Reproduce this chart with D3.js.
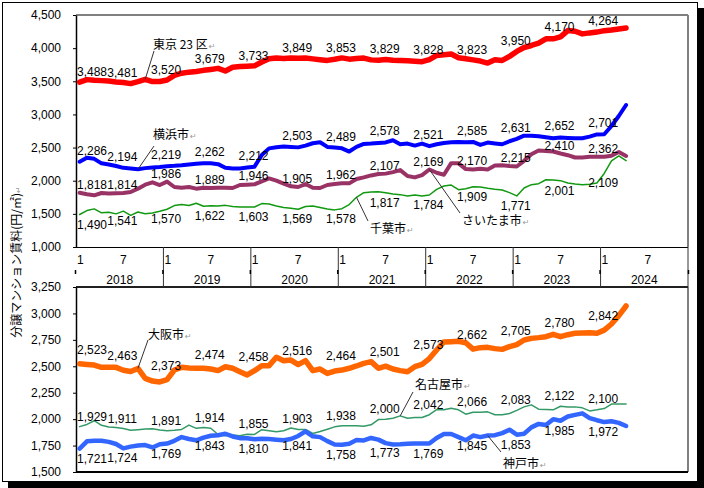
<!DOCTYPE html>
<html><head><meta charset="utf-8">
<script src="https://cdn.jsdelivr.net/npm/d3@7"></script>
<style>
body{margin:0;background:#fff;}
svg{display:block;}
.num{font-family:"Liberation Sans Narrow","Liberation Sans",Arial,sans-serif;font-size:12px;fill:#000;}
.jp{font-family:"Noto Sans CJK JP",sans-serif;font-size:12px;fill:#000;}
.ret{font-family:"DejaVu Sans",sans-serif;font-size:8px;fill:#999;}
</style></head><body>
<svg id="c" width="704" height="488"></svg>
<script>
// ---------- data ----------
const years = ["2018","2019","2020","2021","2022","2023","2024"];
const monthTicks = ["1","7"];
const topTicks = [1000,1500,2000,2500,3000,3500,4000,4500];
const bottomTicks = [1500,1750,2000,2250,2500,2750,3000,3250];
const yTitle = "分譲マンション賃料(円/㎡)";

const tokyo = [3488,3525,3515,3510,3505,3490,3481,3465,3495,3530,3495,3497,
 3520,3590,3622,3638,3648,3665,3679,3695,3655,3712,3722,3728,
 3733,3790,3840,3850,3845,3850,3849,3850,3838,3826,3815,3832,
 3853,3834,3842,3850,3823,3818,3829,3818,3813,3808,3803,3795,
 3828,3890,3900,3912,3855,3840,3823,3805,3775,3825,3815,3875,
 3950,4010,4040,4075,4140,4140,4170,4265,4255,4215,4230,4242,
 4264,4275,4290,4304];
const yokohama = [2286,2345,2330,2262,2245,2222,2194,2185,2172,2190,2200,2208,
 2219,2224,2232,2245,2255,2262,2262,2250,2195,2185,2185,2198,
 2212,2388,2488,2505,2515,2510,2503,2530,2565,2580,2510,2500,
 2489,2440,2510,2555,2560,2570,2578,2610,2550,2560,2530,2560,
 2521,2550,2570,2580,2585,2582,2585,2540,2575,2562,2550,2595,
 2631,2680,2680,2672,2655,2640,2652,2645,2640,2640,2665,2698,
 2701,2825,2976,3142];
const saitama = [1818,1795,1780,1815,1808,1812,1814,1830,1880,1940,1975,1935,
 1986,1905,1895,1905,1880,1895,1889,1895,1895,1890,1935,1940,
 1946,1990,2035,2000,1955,1915,1905,1950,1895,1890,1935,1950,
 1962,1960,2025,2050,2080,2100,2107,2130,2160,2070,2050,2085,
 2169,2120,2090,2265,2262,2175,2170,2180,2170,2230,2232,2222,
 2215,2300,2400,2455,2450,2440,2410,2385,2350,2350,2360,2362,
 2362,2378,2433,2373];
const chiba = [1490,1550,1575,1515,1525,1500,1541,1478,1528,1503,1513,1540,
 1570,1625,1640,1625,1660,1615,1622,1620,1628,1612,1603,1603,
 1603,1655,1648,1620,1595,1585,1569,1610,1620,1595,1572,1560,
 1578,1640,1750,1820,1830,1832,1817,1800,1790,1770,1785,1770,
 1784,1870,1920,1935,1865,1880,1909,1905,1885,1870,1860,1820,
 1771,1890,1940,1955,2015,2010,2001,1965,1950,1940,1945,1965,
 2109,2300,2373,2302];
const osaka = [2523,2518,2512,2490,2490,2490,2463,2450,2480,2385,2360,2352,
 2373,2465,2490,2484,2481,2481,2474,2459,2496,2481,2449,2418,
 2458,2506,2506,2585,2553,2559,2516,2553,2459,2474,2433,2455,
 2464,2481,2503,2528,2544,2481,2501,2474,2459,2449,2496,2518,
 2573,2654,2730,2733,2736,2723,2662,2676,2679,2667,2660,2686,
 2705,2749,2764,2771,2780,2802,2780,2799,2812,2815,2818,2812,
 2842,2900,2979,3070];
const nagoya = [1929,1950,1985,1942,1925,1922,1911,1895,1900,1906,1909,1897,
 1891,1894,1903,1944,1913,1922,1914,1855,1842,1850,1842,1858,
 1855,1900,1890,1880,1890,1916,1903,1902,1865,1883,1905,1927,
 1938,1937,1937,1933,1946,1996,2000,2009,2031,2009,2015,2015,
 2042,2091,2088,2104,2088,2047,2066,2066,2069,2041,2041,2053,
 2083,2116,2135,2094,2091,2088,2122,2116,2116,2107,2078,2088,
 2100,2143,2143,2143];
const kobe = [1721,1790,1795,1795,1785,1765,1724,1740,1750,1755,1732,1762,
 1769,1795,1830,1812,1800,1825,1843,1848,1862,1836,1820,1820,
 1810,1815,1812,1806,1800,1812,1841,1885,1838,1830,1792,1760,
 1758,1768,1802,1798,1822,1806,1773,1760,1762,1768,1770,1770,
 1769,1822,1860,1860,1830,1800,1845,1830,1845,1848,1868,1900,
 1853,1862,1922,1955,1945,2000,1985,2025,2040,2055,2010,1990,
 1972,1980,1965,1935];

const names = ["東京 23 区","横浜市","さいたま市","千葉市","大阪市","名古屋市","神戸市"];

// ---------- layout / style ----------
const months = years.flatMap(y => d3.range(1,13).map(m => y + "-" + m));
const svg = d3.select("#c");
const L = 76, R = 688;
const x = d3.scaleBand().domain(months).range([L, R]);
const xc = i => x(months[i]) + x.bandwidth()/2;
const yTop = d3.scaleLinear().domain([1000,4500]).range([247,15]);
const yBot = d3.scaleLinear().domain([1500,3250]).range([472,287]);

// outer frame with shadow
svg.append("rect").attr("x",8).attr("y",8).attr("width",696).attr("height",480).attr("fill","#000");
svg.append("rect").attr("x",2.5).attr("y",2.5).attr("width",695).attr("height",479)
  .attr("fill","#fff").attr("stroke","#000").attr("stroke-width",1);

// plot area borders
function panelFrame(y0,y1){
  svg.append("line").attr("x1",L).attr("x2",R).attr("y1",y0).attr("y2",y0).attr("stroke","#808080").attr("stroke-width",2);
  svg.append("line").attr("x1",R).attr("x2",R).attr("y1",y0).attr("y2",y1).attr("stroke","#808080").attr("stroke-width",2);
}
panelFrame(15,247);
panelFrame(287,472);

// category axis box
const g = svg.append("g");
g.append("line").attr("x1",L).attr("x2",R).attr("y1",247.5).attr("y2",247.5).attr("stroke","#000");
g.append("line").attr("x1",L).attr("x2",R).attr("y1",287).attr("y2",287).attr("stroke","#000").attr("stroke-width",1.5);
g.append("line").attr("x1",R).attr("x2",R).attr("y1",247).attr("y2",287).attr("stroke","#333");
years.forEach((yr,k)=>{
  const x0 = x(months[k*12]);
  const x1 = k < years.length-1 ? x(months[(k+1)*12]) : R;
  if(k>0) g.append("line").attr("x1",x0).attr("x2",x0).attr("y1",247).attr("y2",287).attr("stroke","#333");
  g.append("line").attr("x1",x0-0.5).attr("x2",x0-0.5).attr("y1",270).attr("y2",274).attr("stroke","#000").attr("stroke-width",1.5);
  g.append("text").attr("class","num").attr("x",x0+1).attr("y",264).text(monthTicks[0]);
  g.append("text").attr("class","num").attr("x",xc(k*12+6)).attr("y",264).attr("text-anchor","middle").text(monthTicks[1]);
  g.append("text").attr("class","num").attr("x",(x0+x1)/2).attr("y",284).attr("text-anchor","middle").text(yr);
});
g.append("line").attr("x1",R+0.5).attr("x2",R+0.5).attr("y1",270).attr("y2",274).attr("stroke","#000").attr("stroke-width",1.5);

// y axes
function yAxis(scale,ticks){
  const a = svg.append("g").attr("transform",`translate(${L},0)`)
    .call(d3.axisLeft(scale).tickValues(ticks).tickSize(3).tickSizeOuter(0).tickPadding(12).tickFormat(d3.format(",")));
  a.select(".domain").attr("stroke","#000").attr("stroke-width",1.5);
  a.selectAll(".tick line").attr("stroke","#000");
  a.selectAll("text").attr("class","num").attr("font-size",null).attr("font-family",null);
  return a;
}
yAxis(yTop,topTicks);
yAxis(yBot,bottomTicks);
svg.append("line").attr("x1",L).attr("x2",R).attr("y1",472).attr("y2",472).attr("stroke","#000").attr("stroke-width",2);

// y title
const yt = svg.append("text").attr("class","jp")
  .attr("transform","translate(21,262) rotate(-90)").attr("text-anchor","middle");
yt.append("tspan").text(yTitle);
yt.append("tspan").attr("class","ret").text("↵");

// series (off = vertical offset of the label centre from the point)
const series = [
  {v:tokyo,    y:yTop, color:"#FF0000", w:5.5, off:-10, name:0, at:9,  tx:153, ty:49,  lx:154, ly:51},
  {v:yokohama, y:yTop, color:"#0000FF", w:4,   off:-11, name:1, at:8,  tx:153, ty:139, lx:154, ly:146},
  {v:saitama,  y:yTop, color:"#993366", w:4,   off:-8,  name:2, at:48, tx:462, ty:225, lx:460, ly:213},
  {v:chiba,    y:yTop, color:"#119911", w:1.5, off:10,  name:3, at:38, tx:370, ty:233, lx:368, ly:221},
  {v:osaka,    y:yBot, color:"#FF6600", w:5.5, off:-14, name:4, at:8,  tx:148, ty:339, lx:148, ly:340},
  {v:nagoya,   y:yBot, color:"#339966", w:1.5, off:-10, name:5, at:44, tx:415, ty:389, lx:413, ly:392},
  {v:kobe,     y:yBot, color:"#3366FF", w:4.5, off:10,  name:6, at:56, tx:503, ty:468, lx:501, ly:452}
];
const fmt = d3.format(",");
series.forEach(s=>{
  svg.append("path").datum(s.v)
    .attr("d", d3.line().x((d,i)=>xc(i)).y(d=>s.y(d)))
    .attr("fill","none").attr("stroke",s.color).attr("stroke-width",s.w)
    .attr("stroke-linejoin","round").attr("stroke-linecap","round");
});
series.forEach(s=>{
  s.v.forEach((d,i)=>{
    if(i%6!==0) return;
    const t = svg.append("text").attr("class","num")
      .attr("y", s.y(d) + s.off + 4).text(fmt(d));
    if(i===0) t.attr("x", L+1);
    else t.attr("x", xc(i)-1).attr("text-anchor","middle");
  });
  // leader + name
  svg.append("line").attr("x1",s.lx).attr("y1",s.ly).attr("x2",xc(s.at)).attr("y2",s.y(s.v[s.at]))
    .attr("stroke","#333").attr("stroke-width",1);
  const nt = svg.append("text").attr("class","jp").attr("x",s.tx).attr("y",s.ty);
  nt.append("tspan").text(names[s.name]);
  nt.append("tspan").attr("class","ret").attr("dx",1).text("↵");
});
</script>
</body></html>
